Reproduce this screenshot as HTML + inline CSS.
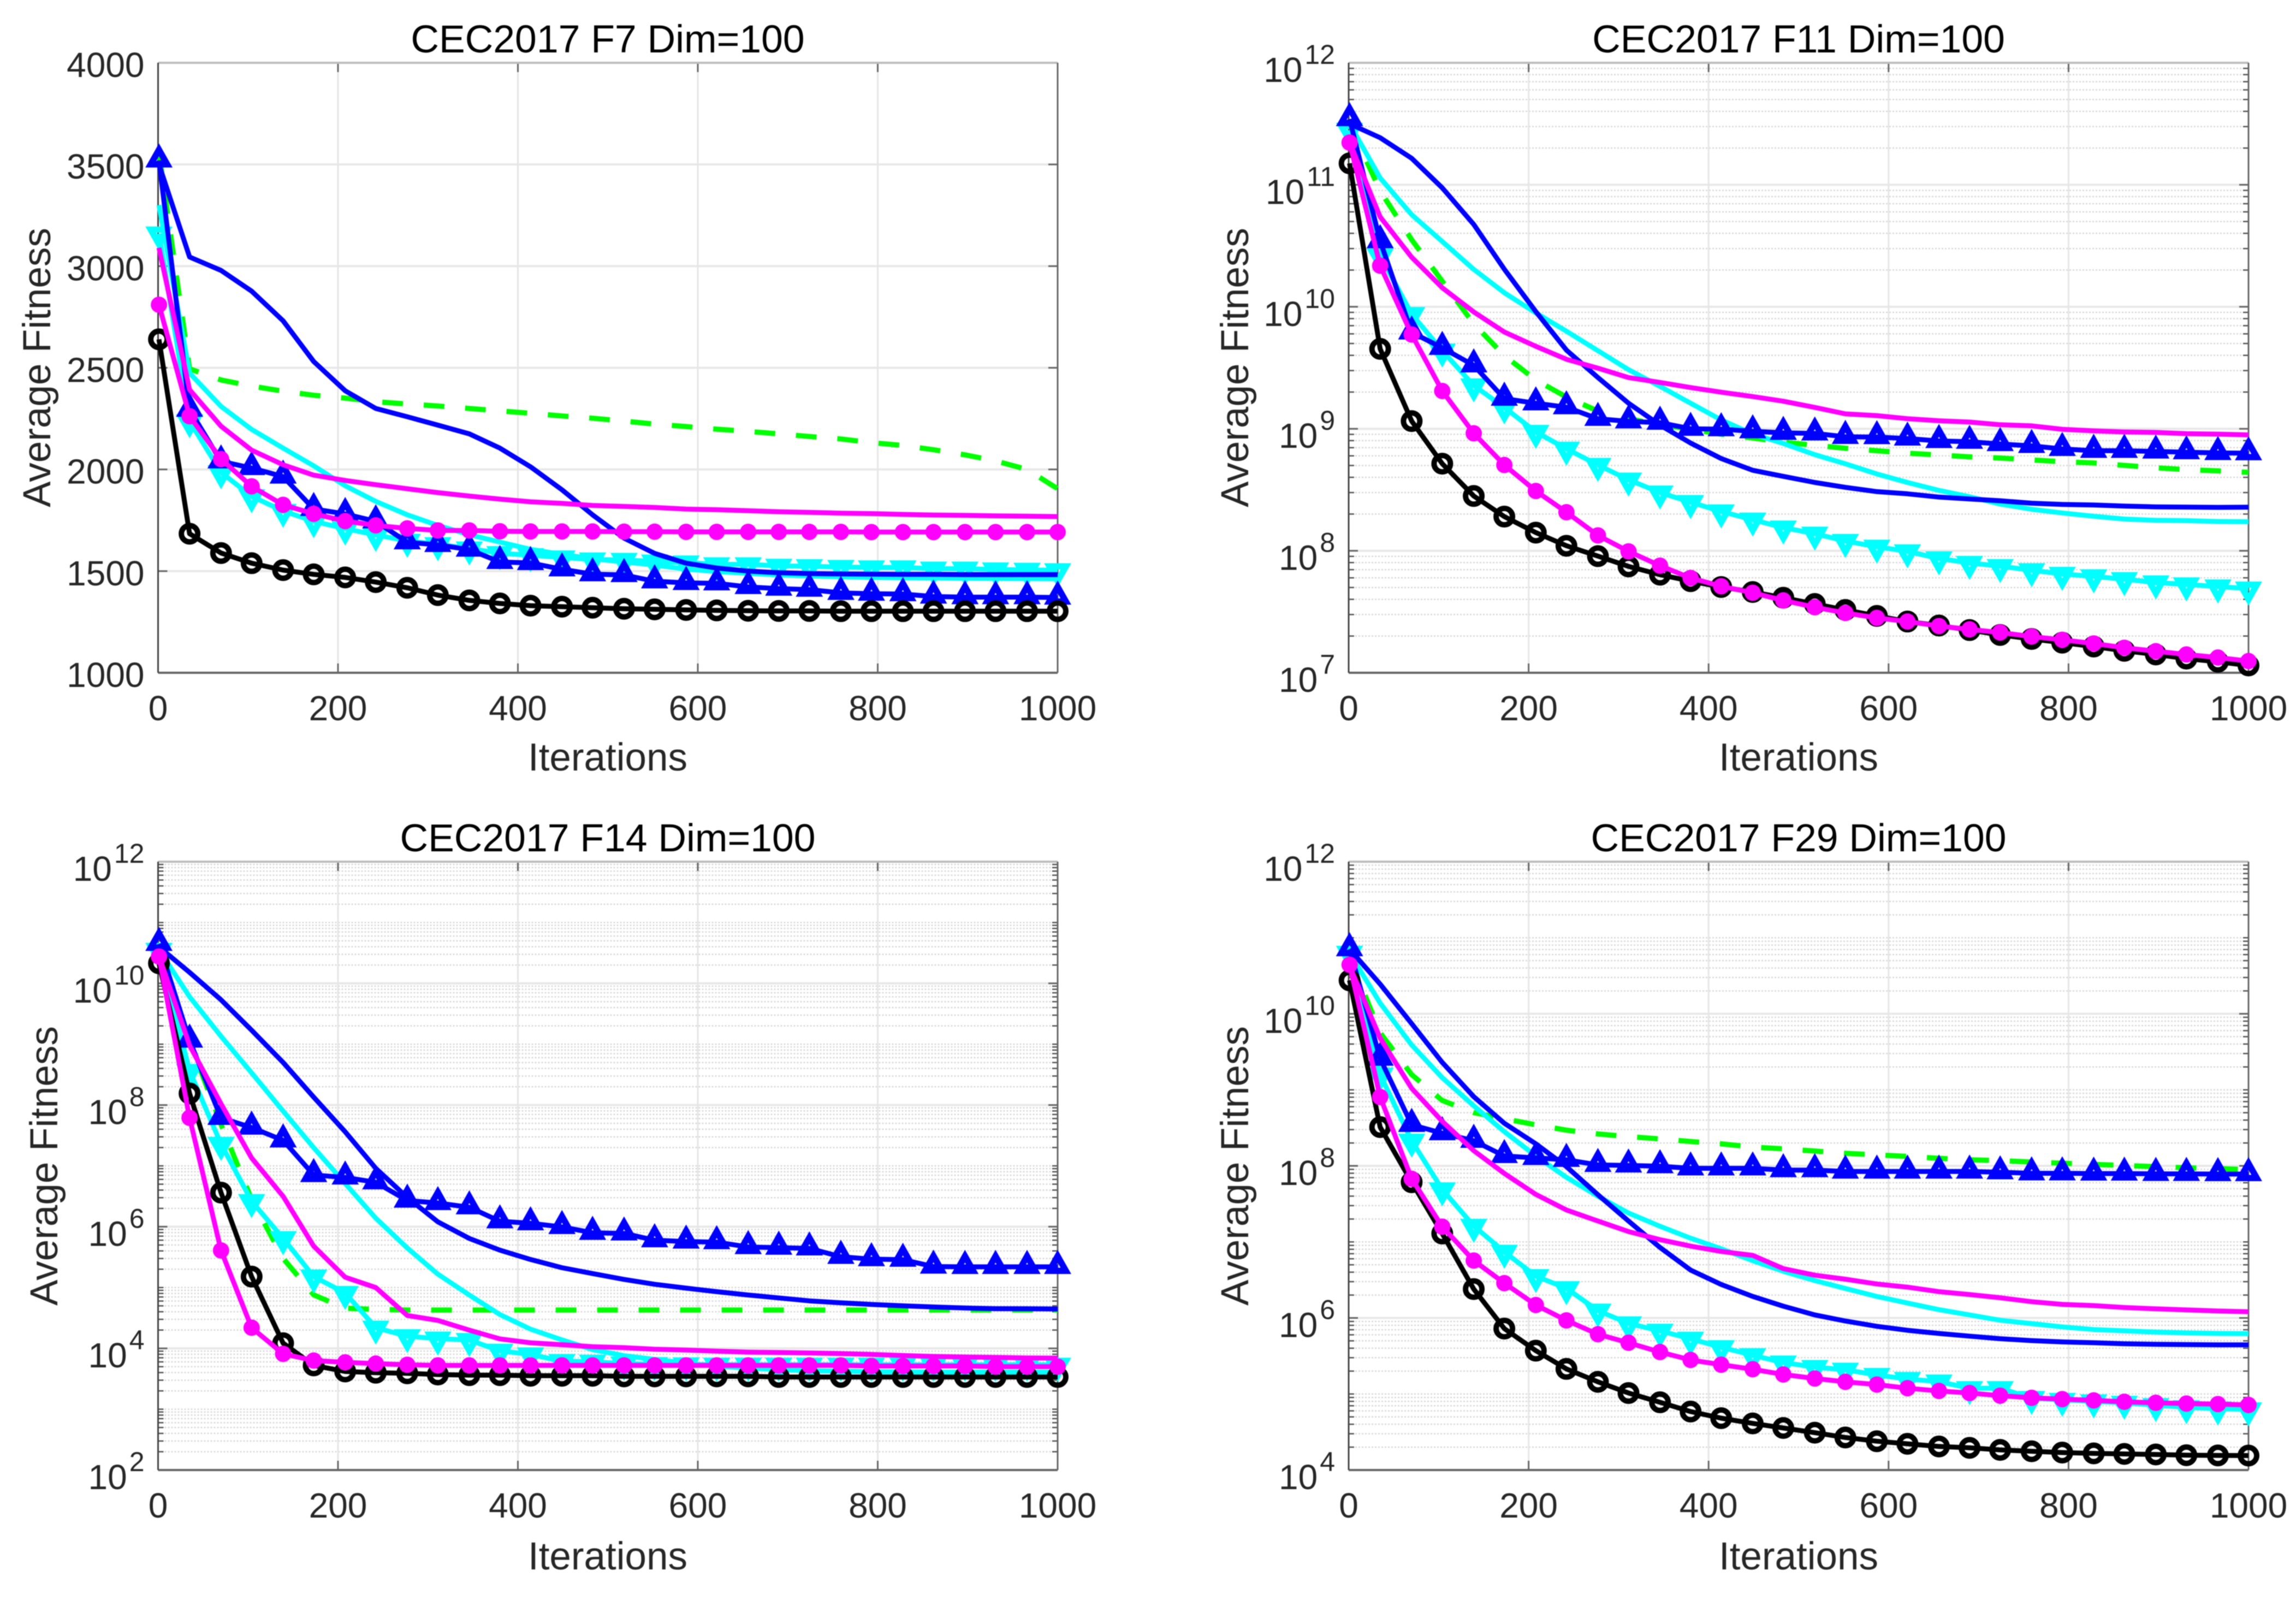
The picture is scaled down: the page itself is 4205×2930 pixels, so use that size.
<!DOCTYPE html>
<html lang="en">
<head>
<meta charset="utf-8">
<title>CEC2017 convergence curves</title>
<style>
html,body{margin:0;padding:0;background:#fff;}
svg{display:block;font-family:"Liberation Sans",Arial,sans-serif;filter:blur(0.9px);}
.title{font-size:71.5px;fill:#000;text-anchor:middle;}
.axis-title{font-size:71px;fill:#262626;text-anchor:middle;}
.tick{font-size:64px;fill:#262626;}
</style>
</head>
<body>
<svg id="chart" xmlns="http://www.w3.org/2000/svg" width="4205" height="2930" viewBox="0 0 4205 2930">
<rect x="0" y="0" width="4205" height="2930" fill="#fff"/>
<g id="panels"></g>
<text class="title" x="1113" y="96">CEC2017 F7 Dim=100</text>
<text class="title" x="3294" y="96">CEC2017 F11 Dim=100</text>
<text class="title" x="1113" y="1559">CEC2017 F14 Dim=100</text>
<text class="title" x="3294" y="1559">CEC2017 F29 Dim=100</text>
<text class="axis-title" x="1113" y="1411">Iterations</text>
<text class="axis-title" x="3294" y="1411">Iterations</text>
<text class="axis-title" x="1113" y="2874">Iterations</text>
<text class="axis-title" x="3294" y="2874">Iterations</text>
<text class="axis-title" transform="translate(92 673) rotate(-90)">Average Fitness</text>
<text class="axis-title" transform="translate(2286 673) rotate(-90)">Average Fitness</text>
<text class="axis-title" transform="translate(105 2135) rotate(-90)">Average Fitness</text>
<text class="axis-title" transform="translate(2286 2135) rotate(-90)">Average Fitness</text>
</svg>
<script>
// Shared iteration index of every sampled point
const iterations = [1,35,70,104,139,173,208,242,277,311,346,380,414,449,483,518,552,587,621,656,690,724,759,793,828,862,897,931,966,1000];
const xTickValues = [0,200,400,600,800,1000];

// F7: linear axis, raw fitness values
const f7YTicks = [1000,1500,2000,2500,3000,3500,4000];
const f7BlueSolid = [3500,3045,2979,2877,2731,2531,2387,2300,2259,2218,2175,2105,2013,1900,1777,1662,1587,1539,1515,1500,1492,1488,1486,1485,1484,1484,1483,1483,1483,1483];
const f7CyanSolid = [3300,2474,2310,2197,2105,2018,1920,1843,1777,1725,1679,1643,1607,1582,1561,1545,1530,1510,1498,1489,1481,1476,1472,1469,1467,1466,1465,1464,1463,1462];
const f7MagentaSolid = [3090,2392,2213,2095,2023,1972,1946,1925,1905,1886,1869,1854,1841,1833,1823,1818,1813,1805,1802,1797,1792,1789,1785,1783,1779,1776,1774,1772,1770,1768];
const f7GreenDashed = [3560,2495,2440,2410,2385,2365,2351,2333,2322,2312,2300,2288,2276,2263,2252,2238,2223,2211,2198,2187,2175,2162,2150,2132,2118,2097,2072,2042,2000,1905];
const f7BlueTriangle = [3520,2294,2040,2007,1965,1806,1781,1745,1642,1629,1606,1545,1540,1509,1485,1481,1450,1442,1440,1422,1414,1409,1393,1389,1387,1375,1372,1372,1372,1370];
const f7CyanTriangle = [3160,2237,1986,1868,1796,1745,1709,1678,1649,1632,1611,1588,1578,1567,1557,1555,1547,1542,1533,1533,1526,1524,1520,1518,1518,1512,1512,1508,1506,1504];
const f7MagentaDot = [2810,2262,2051,1917,1826,1782,1746,1725,1710,1700,1700,1696,1695,1695,1695,1694,1694,1693,1693,1693,1693,1693,1693,1692,1692,1692,1692,1692,1692,1692];
const f7BlackCircle = [2640,1684,1589,1539,1505,1484,1469,1446,1418,1382,1356,1341,1330,1325,1320,1315,1312,1309,1307,1305,1304,1304,1303,1303,1303,1303,1303,1303,1303,1303];

// F11: log axis, values are log10(fitness)
const f11Exponents = [7,8,9,10,11,12];
const f11BlueSolid = [11.5,11.386,11.217,10.975,10.675,10.308,9.96,9.645,9.42,9.21,9.03,8.883,8.756,8.66,8.61,8.56,8.52,8.485,8.467,8.44,8.425,8.41,8.39,8.38,8.375,8.366,8.36,8.358,8.356,8.357];
const f11CyanSolid = [11.5,11.056,10.755,10.535,10.307,10.115,9.95,9.8,9.64,9.485,9.348,9.21,9.073,8.957,8.88,8.788,8.713,8.63,8.56,8.495,8.443,8.383,8.34,8.31,8.283,8.26,8.25,8.247,8.24,8.238];
const f11MagentaSolid = [11.35,10.737,10.406,10.156,9.958,9.793,9.676,9.57,9.497,9.42,9.38,9.338,9.3,9.264,9.226,9.175,9.122,9.108,9.083,9.066,9.055,9.033,9.024,8.996,8.983,8.974,8.97,8.96,8.956,8.95];
const f11GreenDashed = [11.5,10.95,10.55,10.21,9.86,9.6,9.4,9.26,9.145,9.084,9.03,9.0,8.955,8.925,8.89,8.865,8.84,8.82,8.8,8.785,8.77,8.76,8.745,8.73,8.72,8.7,8.68,8.665,8.655,8.643];
const f11BlueTriangle = [11.539,10.538,9.79,9.664,9.52,9.247,9.209,9.177,9.082,9.061,9.05,9.0,8.997,8.98,8.967,8.962,8.934,8.932,8.92,8.9,8.894,8.875,8.86,8.835,8.82,8.82,8.814,8.808,8.802,8.8];
const f11CyanTriangle = [11.45,10.42,9.94,9.64,9.355,9.175,8.974,8.836,8.703,8.583,8.477,8.399,8.322,8.255,8.19,8.14,8.08,8.033,7.995,7.937,7.9,7.874,7.84,7.81,7.79,7.767,7.74,7.724,7.707,7.69];
const f11MagentaDot = [11.346,10.337,9.773,9.31,8.963,8.703,8.49,8.316,8.126,7.995,7.878,7.777,7.709,7.656,7.593,7.537,7.49,7.45,7.42,7.383,7.356,7.33,7.297,7.27,7.24,7.205,7.177,7.15,7.125,7.096];
const f11BlackCircle = [11.176,9.655,9.063,8.714,8.449,8.28,8.149,8.041,7.956,7.872,7.804,7.751,7.703,7.662,7.615,7.564,7.515,7.466,7.42,7.387,7.35,7.31,7.277,7.247,7.215,7.18,7.15,7.116,7.09,7.06];

// F14: log axis, values are log10(fitness)
const f14Exponents = [2,4,6,8,10,12];
const f14BlueSolid = [10.6,10.18,9.73,9.23,8.7,8.13,7.56,6.96,6.48,6.08,5.807,5.615,5.461,5.326,5.23,5.134,5.054,4.99,4.932,4.877,4.829,4.781,4.749,4.723,4.7,4.68,4.663,4.653,4.652,4.647];
const f14CyanSolid = [10.55,9.78,9.13,8.53,7.9,7.3,6.71,6.14,5.65,5.22,4.877,4.557,4.316,4.14,3.98,3.88,3.82,3.755,3.707,3.675,3.653,3.633,3.627,3.617,3.613,3.61,3.61,3.61,3.61,3.61];
const f14MagentaSolid = [10.45,8.98,8.02,7.13,6.5,5.68,5.17,5.0,4.54,4.46,4.3,4.156,4.092,4.06,4.028,4.012,3.986,3.973,3.954,3.938,3.932,3.925,3.915,3.9,3.883,3.867,3.858,3.851,3.842,3.84];
const f14GreenDashed = [10.5,9.05,7.68,6.45,5.48,4.88,4.66,4.64,4.63,4.63,4.63,4.63,4.63,4.63,4.63,4.63,4.63,4.63,4.63,4.63,4.63,4.63,4.63,4.63,4.63,4.63,4.63,4.63,4.63,4.63];
const f14BlueTriangle = [10.65,9.06,7.79,7.63,7.42,6.85,6.81,6.73,6.43,6.39,6.32,6.09,6.057,5.996,5.9,5.89,5.778,5.756,5.746,5.666,5.656,5.644,5.506,5.467,5.458,5.345,5.34,5.34,5.34,5.34];
const f14CyanTriangle = [10.55,8.56,7.36,6.42,5.81,5.18,4.91,4.34,4.2,4.16,4.137,3.96,3.9,3.79,3.78,3.75,3.74,3.736,3.73,3.73,3.73,3.73,3.73,3.73,3.73,3.73,3.73,3.73,3.73,3.73];
const f14MagentaDot = [10.44,7.79,5.61,4.34,3.91,3.8,3.77,3.75,3.73,3.72,3.72,3.72,3.72,3.72,3.72,3.72,3.72,3.72,3.72,3.72,3.72,3.72,3.72,3.71,3.71,3.71,3.71,3.7,3.7,3.7];
const f14BlackCircle = [10.33,8.19,6.56,5.18,4.085,3.72,3.62,3.6,3.59,3.57,3.56,3.56,3.55,3.55,3.55,3.54,3.54,3.54,3.54,3.54,3.53,3.53,3.53,3.53,3.53,3.53,3.53,3.53,3.53,3.53];

// F29: log axis, values are log10(fitness)
const f29Exponents = [4,6,8,10,12];
const f29BlueSolid = [10.85,10.39,9.87,9.36,8.91,8.56,8.29,7.99,7.62,7.275,6.927,6.63,6.44,6.283,6.155,6.04,5.96,5.89,5.838,5.796,5.761,5.727,5.702,5.685,5.674,5.66,5.653,5.65,5.647,5.647];
const f29CyanSolid = [10.8,10.14,9.59,9.16,8.79,8.45,8.13,7.85,7.6,7.38,7.206,7.049,6.91,6.753,6.614,6.492,6.388,6.283,6.196,6.109,6.04,5.97,5.925,5.883,5.848,5.831,5.814,5.803,5.796,5.793];
const f29MagentaSolid = [10.63,9.68,9.02,8.585,8.2,7.9,7.625,7.42,7.275,7.136,7.03,6.945,6.875,6.823,6.649,6.562,6.51,6.447,6.405,6.346,6.308,6.266,6.214,6.179,6.162,6.137,6.12,6.106,6.092,6.082];
const f29GreenDashed = [10.75,9.75,9.2,8.86,8.7,8.62,8.54,8.47,8.42,8.385,8.355,8.32,8.29,8.247,8.225,8.195,8.165,8.145,8.125,8.1,8.08,8.07,8.05,8.035,8.02,8.005,7.99,7.975,7.965,7.95];
const f29BlueTriangle = [10.85,9.41,8.54,8.43,8.33,8.13,8.105,8.08,8.013,8.006,7.996,7.968,7.968,7.968,7.944,7.944,7.926,7.926,7.926,7.926,7.926,7.916,7.902,7.902,7.899,7.899,7.895,7.895,7.892,7.892];
const f29CyanTriangle = [10.8,9.2,8.33,7.69,7.21,6.87,6.55,6.39,6.096,5.928,5.831,5.726,5.615,5.51,5.413,5.354,5.319,5.25,5.197,5.163,5.076,5.076,4.947,4.922,4.902,4.884,4.853,4.825,4.807,4.797];
const f29MagentaDot = [10.645,8.906,7.83,7.2,6.755,6.458,6.17,5.968,5.786,5.674,5.552,5.448,5.385,5.326,5.257,5.204,5.16,5.124,5.076,5.04,5.013,4.978,4.95,4.933,4.916,4.898,4.884,4.874,4.867,4.856];
const f29BlackCircle = [10.44,8.51,7.785,7.11,6.38,5.86,5.57,5.33,5.16,5.013,4.891,4.769,4.682,4.613,4.553,4.491,4.428,4.379,4.345,4.31,4.292,4.265,4.247,4.23,4.219,4.212,4.205,4.195,4.192,4.19];

const NS = 'http://www.w3.org/2000/svg';
const layer = document.getElementById('panels');

function make(tag, attrs, parent) {
  const el = document.createElementNS(NS, tag);
  for (const k in attrs) el.setAttribute(k, attrs[k]);
  parent.appendChild(el);
  return el;
}

function drawSeries(g, values, style, x, y, id) {
  const pts = values.map((v, i) => x(iterations[i]).toFixed(1) + ',' + y(v).toFixed(1)).join(' ');
  const line = make('polyline', {points: pts, fill: 'none', stroke: style.color, 'stroke-width': style.width, 'stroke-linejoin': 'round', 'stroke-dasharray': style.dash || 'none'}, g);
  
  
  if (!style.marker) return;
  values.forEach((v, i) => {
    const cx = x(iterations[i]);
    const cy = y(v);
    let m;
    if (style.marker === 'up') {
      m = make('polygon', {points: [cx, cy - 19.5, cx + 15.1, cy + 7.25, cx - 15.1, cy + 7.25].map(n => n.toFixed(1)).join(' '), fill: 'none', stroke: style.color, 'stroke-width': 11.5, 'stroke-linejoin': 'miter'}, g);
    } else if (style.marker === 'down') {
      m = make('polygon', {points: [cx, cy + 19.5, cx + 15.1, cy - 7.25, cx - 15.1, cy - 7.25].map(n => n.toFixed(1)).join(' '), fill: 'none', stroke: style.color, 'stroke-width': 11.5, 'stroke-linejoin': 'miter'}, g);
    } else if (style.marker === 'dot') {
      m = make('circle', {cx: cx, cy: cy, r: 15, fill: style.color}, g);
    } else {
      m = make('circle', {cx: cx, cy: cy, r: 15, fill: 'none', stroke: style.color, 'stroke-width': 10}, g);
    }
    
    
  });
}

const seriesStyles = {
  green: {key: 'green-dashed', color: '#00ff00', width: 9.5, dash: '38 38'},
  cyanTri: {key: 'cyan-triangle', color: '#00ffff', width: 9, marker: 'down'},
  cyan: {key: 'cyan-solid', color: '#00ffff', width: 9},
  blueTri: {key: 'blue-triangle', color: '#0000ff', width: 9, marker: 'up'},
  blue: {key: 'blue-solid', color: '#0000ff', width: 9},
  black: {key: 'black-circle', color: '#000000', width: 9, marker: 'circle'},
  magenta: {key: 'magenta-solid', color: '#ff00ff', width: 9},
  magDot: {key: 'magenta-dot', color: '#ff00ff', width: 9, marker: 'dot'}
};

function drawPanel(p) {
  const g = make('g', {}, layer);
  
  
  const right = p.left + p.w;
  const bottom = p.top + p.h;
  const x = it => p.left + it / 1000 * p.w;
  const y = v => p.top + (p.yMax - v) / (p.yMax - p.yMin) * p.h;

  make('rect', {x: p.left, y: p.top, width: p.w, height: p.h, fill: '#fff'}, g);

  // minor grid & minor ticks on log axes
  if (p.log) {
    for (let dec = p.yMin; dec < p.yMax; dec++) {
      for (let d = 1; d <= 9; d++) {
        const isMajor = p.exponents.indexOf(dec) >= 0 && d === 1;
        if (isMajor) continue;
        const yy = y(dec + Math.log10(d));
        const ml = make('line', {x1: p.left, x2: right, y1: yy, y2: yy, stroke: '#d8d8d8', 'stroke-width': 2.5, 'stroke-dasharray': '3 3'}, g);
        
        
        const tl = make('line', {x1: p.left, x2: p.left + 10, y1: yy, y2: yy, stroke: '#555', 'stroke-width': 2.5}, g);
        
        
        const tr = make('line', {x1: right - 10, x2: right, y1: yy, y2: yy, stroke: '#555', 'stroke-width': 2.5}, g);
        
        
      }
    }
  }

  // major y grid, ticks, labels
  (p.log ? p.exponents : p.yTicks).forEach(v => {
    const yy = y(v);
    const gl = make('line', {x1: p.left, x2: right, y1: yy, y2: yy, stroke: '#e8e8e8', 'stroke-width': 4}, g);
    
    
    const t1 = make('line', {x1: p.left, x2: p.left + 17, y1: yy, y2: yy, stroke: '#666', 'stroke-width': 3}, g);
    
    
    const t2 = make('line', {x1: right - 17, x2: right, y1: yy, y2: yy, stroke: '#666', 'stroke-width': 3}, g);
    
    
    const lab = make('text', {class: 'tick', x: p.left - 25, y: yy + (p.log ? 35 : 26), 'text-anchor': 'end'}, g);
    
    
    if (p.log) {
      lab.appendChild(document.createTextNode('10'));
      const sup = make('tspan', {dx: 4, dy: -33, 'font-size': 50}, lab);
      sup.textContent = String(v);
    } else {
      lab.textContent = String(v);
    }
  });

  // x grid, ticks, labels
  xTickValues.forEach(v => {
    const xx = x(v);
    const gl = make('line', {x1: xx, x2: xx, y1: p.top, y2: bottom, stroke: '#e6e6e6', 'stroke-width': 3}, g);
    
    
    const t1 = make('line', {x1: xx, x2: xx, y1: bottom - 17, y2: bottom, stroke: '#666', 'stroke-width': 3}, g);
    
    
    const t2 = make('line', {x1: xx, x2: xx, y1: p.top, y2: p.top + 17, stroke: '#666', 'stroke-width': 3}, g);
    
    
    const lab = make('text', {class: 'tick', x: xx, y: bottom + 87, 'text-anchor': 'middle'}, g);
    
    
    lab.textContent = String(v);
  });

  // axes box
  const topEdge = make('line', {x1: p.left, x2: right, y1: p.top, y2: p.top, stroke: '#bdbdbd', 'stroke-width': 4}, g);
  
  
  const bottomEdge = make('line', {x1: p.left, x2: right, y1: bottom, y2: bottom, stroke: '#666', 'stroke-width': 4}, g);
  
  
  const leftEdge = make('line', {x1: p.left, x2: p.left, y1: p.top, y2: bottom, stroke: '#444', 'stroke-width': 3}, g);
  
  
  const rightEdge = make('line', {x1: right, x2: right, y1: p.top, y2: bottom, stroke: '#666', 'stroke-width': 3}, g);
  
  

  // series (back to front)
  ['green', 'cyanTri', 'cyan', 'blueTri', 'blue', 'black', 'magenta', 'magDot'].forEach(k => {
    drawSeries(g, p.series[k], seriesStyles[k], x, y, p.id);
  });
}

drawPanel({id: 'f7', left: 289.5, top: 115, w: 1647.5, h: 1117, log: false, yMin: 1000, yMax: 4000, yTicks: f7YTicks,
  series: {blue: f7BlueSolid, cyan: f7CyanSolid, magenta: f7MagentaSolid, green: f7GreenDashed, blueTri: f7BlueTriangle, cyanTri: f7CyanTriangle, magDot: f7MagentaDot, black: f7BlackCircle}});
drawPanel({id: 'f11', left: 2470, top: 115, w: 1648, h: 1117, log: true, yMin: 7, yMax: 12, exponents: f11Exponents,
  series: {blue: f11BlueSolid, cyan: f11CyanSolid, magenta: f11MagentaSolid, green: f11GreenDashed, blueTri: f11BlueTriangle, cyanTri: f11CyanTriangle, magDot: f11MagentaDot, black: f11BlackCircle}});
drawPanel({id: 'f14', left: 289.5, top: 1578, w: 1647.5, h: 1114, log: true, yMin: 2, yMax: 12, exponents: f14Exponents,
  series: {blue: f14BlueSolid, cyan: f14CyanSolid, magenta: f14MagentaSolid, green: f14GreenDashed, blueTri: f14BlueTriangle, cyanTri: f14CyanTriangle, magDot: f14MagentaDot, black: f14BlackCircle}});
drawPanel({id: 'f29', left: 2470, top: 1578, w: 1648, h: 1114, log: true, yMin: 4, yMax: 12, exponents: f29Exponents,
  series: {blue: f29BlueSolid, cyan: f29CyanSolid, magenta: f29MagentaSolid, green: f29GreenDashed, blueTri: f29BlueTriangle, cyanTri: f29CyanTriangle, magDot: f29MagentaDot, black: f29BlackCircle}});
</script>
</body>
</html>
